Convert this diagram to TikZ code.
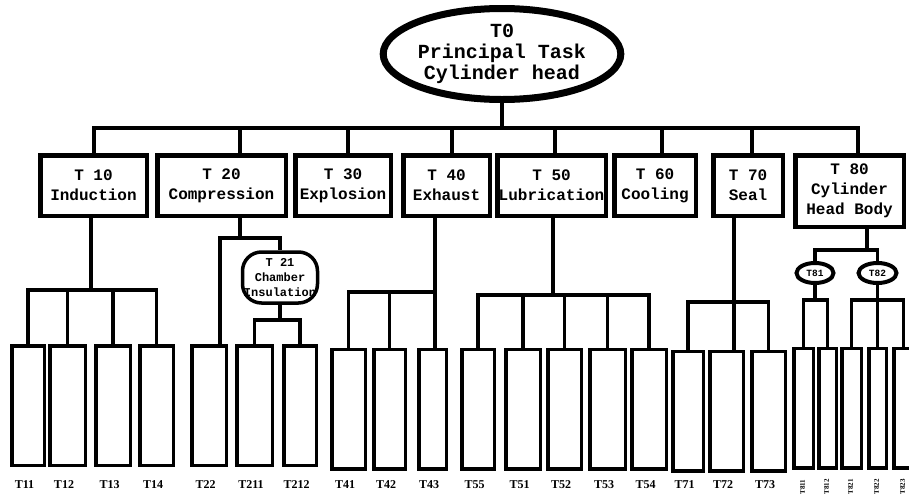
\documentclass[tikz,border=0pt]{standalone}
\usepackage{fontspec}
\setmonofont{Liberation Mono}
\newfontfamily\labfont{Liberation Serif}
\usetikzlibrary{shapes.geometric}
\begin{document}
\begin{tikzpicture}[x=1pt,y=-1pt,
  conn/.style={line width=3.3pt},
  topbox/.style={draw, line width=4.5pt, inner sep=0pt, align=center,
    minimum height=60.5pt, font=\ttfamily\bfseries\fontsize{16}{20}\selectfont},
  leaf/.style={draw, line width=3.5pt, inner sep=0pt, minimum height=119.5pt},
  subell/.style={draw, ellipse, line width=4pt, minimum width=37pt, minimum height=20pt,
    inner sep=0pt, font=\ttfamily\bfseries\fontsize{9.5}{9.5}\selectfont},
  lab/.style={font=\labfont\bfseries\fontsize{12}{12}\selectfont, inner sep=0pt},
  tinylab/.style={font=\labfont\bfseries\fontsize{7}{7}\selectfont, rotate=90, inner sep=0pt}]

\useasboundingbox (0,0) rectangle (909,498);

% principal task
\node[draw, ellipse, line width=7pt, minimum width=208pt, minimum height=91pt,
  inner sep=0pt, align=center, font=\ttfamily\bfseries\fontsize{20}{21}\selectfont]
  (T0) at (502,54) {T0\\Principal Task\\Cylinder head};

% first-level tasks
\node[topbox, minimum width=106.5pt] (T10) at (93.5,185.5) {T 10\\Induction};
\node[topbox, minimum width=128.5pt] (T20) at (221.5,185.5) {T 20\\Compression};
\node[topbox, minimum width=95.5pt]  (T30) at (343,185.5) {T 30\\Explosion};
\node[topbox, minimum width=86.5pt]  (T40) at (446.5,185.5) {T 40\\Exhaust};
\node[topbox, minimum width=108.5pt] (T50) at (551.5,185.5) {T 50\\Lubrication};
\node[topbox, minimum width=81.5pt]  (T60) at (655,185.5) {T 60\\Cooling};
\node[topbox, minimum width=69.5pt]  (T70) at (748,185.5) {T 70\\Seal};
\node[topbox, minimum width=108.5pt, minimum height=71.5pt] (T80) at (849.5,191)
  {T 80\\Cylinder\\Head Body};

% intermediate tasks
\node[draw, rounded corners=19pt, line width=3.5pt, minimum width=75pt,
  minimum height=51pt, inner sep=0pt, align=center,
  font=\ttfamily\bfseries\fontsize{12}{15}\selectfont] (T21) at (280,277.5)
  {T 21\\Chamber\\Insulation};
\node[subell] (T81) at (815,273) {T81};
\node[subell, minimum width=38pt] (T82) at (877.5,273) {T82};

% elementary tasks with their labels
\foreach \n/\x/\w/\y in {T11/28/32.5/405.5, T12/67.5/35.5/405.5, T13/113/34.5/405.5,
    T14/156.5/33.5/405.5, T22/209/34.5/405.5, T211/254.5/35.5/405.5, T212/300/32.5/405.5,
    T41/348.5/33.5/409, T42/389.5/31.5/409, T43/432.5/27.5/409, T55/478/32.5/409,
    T51/523/34.5/409, T52/564.5/33.5/409, T53/607.5/35.5/409, T54/649/34.5/409,
    T71/688/30.5/411, T72/726.5/33.5/411, T73/768.5/33.5/411}{
  \node[leaf, minimum width=\w pt] (\n) at (\x,\y) {};
  \node[lab] (l\n) at (\x-3.5,485) {\n};
}
\foreach \n/\x/\w in {T811/803.5/19.5, T812/827.5/17.5, T821/851.5/19.5,
    T822/877.5/17.5, T823/903.5/19.5}{
  \node[leaf, minimum width=\w pt] (\n) at (\x,408) {};
  \node[tinylab] (l\n) at (\x-1,487) {\n};
}

% main bus
\coordinate (j0) at (502,128);
\coordinate (d10) at (94,128);
\coordinate (d20) at (240,128);
\coordinate (d30) at (348,128);
\coordinate (d40) at (452,128);
\coordinate (d50) at (555,128);
\coordinate (d60) at (662,128);
\coordinate (d70) at (752,128);
\coordinate (d80) at (858,128);
\draw[conn] (T0.south) -- (j0);
\draw[conn] (T10.north -| d10) -- (d10) -- (d80) -- (T80.north -| d80);
\foreach \k in {20,30,40,50,60,70}
  \draw[conn] (T\k.north -| d\k) -- (d\k);

% induction
\coordinate (s10) at (91,290);
\draw[conn] (T10.south -| s10) -- (s10);
\draw[conn] (T11.north) |- (s10) -| (T14.north);
\draw[conn] (T12.north) -- (T12.north |- s10);
\draw[conn] (T13.north) -- (T13.north |- s10);

% compression
\coordinate (s20) at (240,238);
\coordinate (c22) at (220,238);
\draw[conn] (T20.south -| s20) -- (s20);
\draw[conn] (T22.north -| c22) -- (c22) -| (T21.north);
\coordinate (j21) at (280,320);
\draw[conn] (T21.south) -- (j21);
\draw[conn] (T211.north) |- (j21) -| (T212.north);

% exhaust
\coordinate (j40) at (435,292);
\draw[conn] (T40.south -| j40) -- (T43.north -| j40);
\draw[conn] (T41.north) |- (j40);
\draw[conn] (T42.north) -- (T42.north |- j40);

% lubrication
\coordinate (j50) at (553,295);
\draw[conn] (T50.south -| j50) -- (j50);
\draw[conn] (T55.north) |- (j50) -| (T54.north);
\foreach \k in {T51,T52,T53}
  \draw[conn] (\k.north) -- (\k.north |- j50);

% seal
\coordinate (j70) at (734,302);
\draw[conn] (T70.south -| j70) -- (T72.north -| j70);
\draw[conn] (T71.north) |- (j70) -| (T73.north);

% cylinder head body
\coordinate (j80) at (867,250);
\draw[conn] (T80.south -| j80) -- (j80);
\draw[conn] (T81.north) |- (j80) -| (T82.north);
\coordinate (j81) at (815,300);
\draw[conn] (T81.south) -- (j81);
\draw[conn] (T811.north) |- (j81) -| (T812.north);
\coordinate (j82) at (877.5,300);
\draw[conn] (T82.south) -- (j82);
\draw[conn] (T821.north) |- (j82) -| (T823.north);
\draw[conn] (T822.north) -- (T822.north |- j82);
\end{tikzpicture}
\end{document}
